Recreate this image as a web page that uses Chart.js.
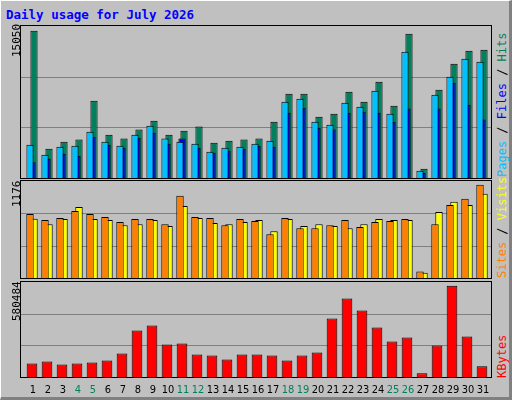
<!DOCTYPE html>
<html><head><meta charset="utf-8">
<script src="https://cdn.jsdelivr.net/npm/chart.js@4/dist/chart.umd.min.js"></script>
<style>
body{margin:0;background:#fff}
#frame{position:absolute;left:0;top:0;width:508px;height:396px;background:#c0c0c0;border-top:1px solid #fff;border-left:1px solid #fff;border-right:3px solid #808080;border-bottom:3px solid #808080;overflow:hidden}
.panel{position:absolute;left:19px;width:470px;border:1px solid #000;background:#c0c0c0}
.panel canvas{display:block}
.t{position:absolute;font-family:"DejaVu Sans Mono",monospace;white-space:nowrap}
.rot{transform-origin:0 0;transform:rotate(-90deg)}
</style></head><body>
<div id="frame">
<div class="t" style="left:5px;top:6px;color:#0000ff;font-weight:bold;font-size:12.5px">Daily usage for July 2026</div>
<div class="panel" style="top:24px;height:152px"><canvas id="c1" width="470" height="152"></canvas></div>
<div class="panel" style="top:179px;height:97px"><canvas id="c2" width="470" height="97"></canvas></div>
<div class="panel" style="top:280px;height:95px;border-bottom:1px solid #000"><canvas id="c3" width="470" height="115"></canvas></div>
<div class="t rot" style="left:9px;top:56px;font-size:11px">15050</div>
<div class="t rot" style="left:9px;top:206px;font-size:11px">1176</div>
<div class="t rot" style="left:9px;top:320px;font-size:11px">580484</div>
<div class="t rot" style="left:494px;top:176px;font-size:12px"><span style="color:#00c0ff">Pages</span> / <span style="color:#0000ff">Files</span> / <span style="color:#00805c">Hits</span></div>
<div class="t rot" style="left:494px;top:277px;font-size:12px"><span style="color:#ff8000">Sites</span> / <span style="color:#ffff00">Visits</span></div>
<div class="t rot" style="left:494px;top:377px;font-size:12px"><span style="color:#ff0000">KBytes</span></div>
</div>
<script>
const days=[...Array(31)].map((_,i)=>String(i+1));
const weekend=[4,5,11,12,18,19,25,26];
const hits=[14570,2900,3600,3800,7650,4290,3900,4790,5680,4290,4690,5090,3500,3700,3800,3900,5580,8350,8350,6070,6370,8550,7560,9540,7160,14290,920,8750,11320,12610,12710];
const files=[1550,1910,2410,2210,4090,3300,3000,3990,4490,3400,3900,3000,2510,2710,2900,3200,3100,6470,6960,4980,4790,6470,6570,6470,5580,6870,500,6870,9440,7260,5780];
const pages=[3300,2310,3100,3200,4590,3600,3200,4290,5180,3900,3600,3400,2610,3000,3100,3400,3700,7560,7850,5580,5280,7460,7060,8650,6370,12510,730,8250,10030,11810,11520];
const visits=[719,653,715,862,715,702,641,653,702,629,874,727,666,653,678,702,568,715,629,653,629,604,653,715,702,702,65,800,923,886,1021];
const sites=[776,702,727,813,776,739,678,715,715,653,996,739,727,641,715,690,531,727,604,604,641,702,617,678,690,715,78,653,886,960,1131];
const kbytes=[83200,95400,77100,83200,89300,101500,144100,284200,314600,198900,205000,138000,131900,107600,138000,138000,131900,101500,131900,150200,357300,479100,406000,302500,217200,241600,22300,192900,558300,247700,65000];
const maxes=[15050,1176,580484];

const gridPlugin={id:'g',beforeDatasetsDraw(c){const y=c.scales.y,ctx=c.ctx,m=y.max;ctx.save();ctx.strokeStyle='#808080';ctx.lineWidth=1;
 [m/3,2*m/3].forEach(v=>{const p=Math.round(y.getPixelForValue(v))+0.5;ctx.beginPath();ctx.moveTo(0,p);ctx.lineTo(c.width,p);ctx.stroke();});ctx.restore();}};
const labelPlugin={id:'l',afterDraw(c){const x=c.scales.x,ctx=c.ctx;ctx.save();ctx.font='11px "DejaVu Sans Condensed","DejaVu Sans"';ctx.textAlign='center';ctx.textBaseline='middle';
 days.forEach((d,i)=>{ctx.fillStyle=weekend.includes(i+1)?'#00805c':'#000';ctx.fillText(d,x.getPixelForValue(i)+1,c.chartArea.bottom+13);});ctx.restore();}};

function mk(id,sets,max,cp,bp,padB,extra){
 const n=sets.length;
 return new Chart(document.getElementById(id),{type:'bar',
  data:{labels:days,datasets:sets.map((s,k)=>({data:s[0],backgroundColor:s[1],borderColor:'#000',borderWidth:1,borderSkipped:'bottom',categoryPercentage:cp,barPercentage:bp,order:n-k}))},
  options:{responsive:false,animation:false,devicePixelRatio:1,layout:{padding:{left:3.5,right:1.5,top:0,bottom:padB}},
   plugins:{legend:{display:false},tooltip:{enabled:false}},
   scales:{x:{display:false},y:{display:false,min:0,max:max}}},
  plugins:[gridPlugin].concat(extra||[])});
}
mk('c1',[[hits,'#00805c'],[files,'#0000ff'],[pages,'#00c0ff']],maxes[0],6/15,3.6,0);
mk('c2',[[visits,'#ffff00'],[sites,'#ff8000']],maxes[1],8/15,1.85,0);
mk('c3',[[kbytes,'#ff0000']],maxes[2],0.71,1,20,[labelPlugin]);
</script>
</body></html>
